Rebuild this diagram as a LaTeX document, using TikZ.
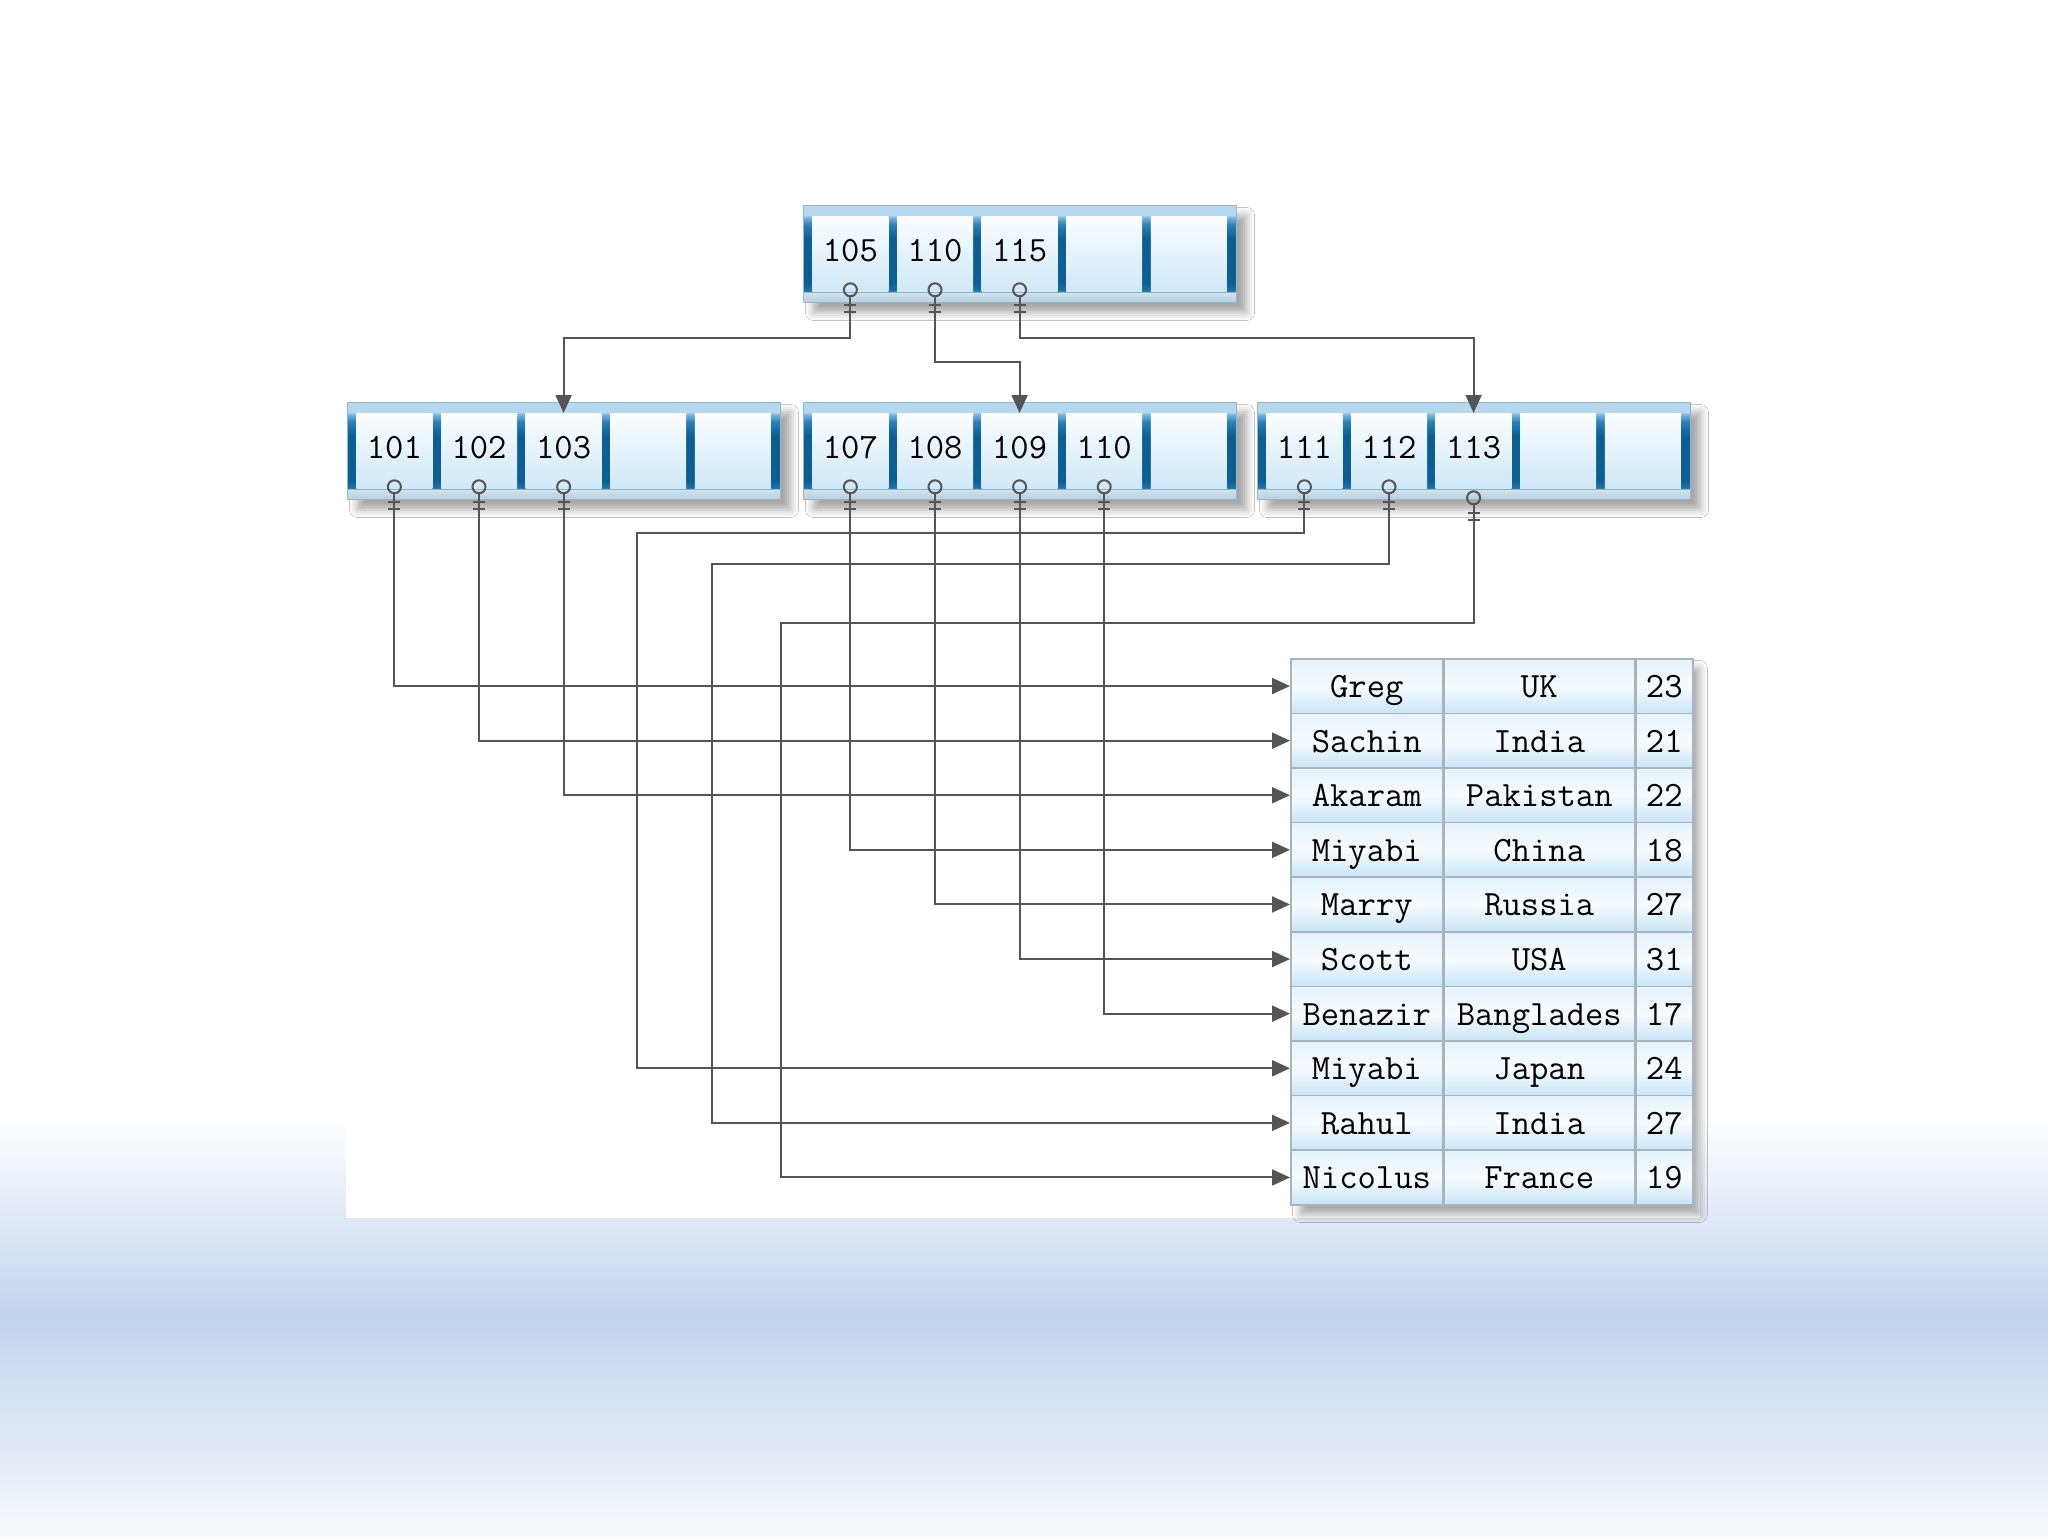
\documentclass[tikz,border=0pt]{standalone}
\usetikzlibrary{arrows.meta,shadows.blur,calc}
\definecolor{fA}{HTML}{B7CFDD}
\definecolor{fB}{HTML}{CFE3ED}
\definecolor{fC}{HTML}{1F70A5}
\definecolor{fD}{HTML}{0C5F95}
\definecolor{fE}{HTML}{2A80B8}
\definecolor{fG}{HTML}{7DB9E0}
\definecolor{fF}{HTML}{B5D8EE}
\definecolor{frameline}{HTML}{8FB8D0}
\definecolor{celltop}{HTML}{FBFDFF}
\definecolor{cellbot}{HTML}{CFE8F7}
\definecolor{tbtop}{HTML}{E4F2FB}
\definecolor{tbmid}{HTML}{F7FBFE}
\definecolor{tbbot}{HTML}{C9E5F6}
\definecolor{tbline}{HTML}{A9B4BD}
\definecolor{conncol}{HTML}{555555}
\definecolor{bgB}{HTML}{C2D3ED}
\definecolor{bgC}{HTML}{F8F9FC}
\pgfdeclareverticalshading{frameshade}{100bp}{color(0bp)=(fA); color(25bp)=(fA); color(30bp)=(fB); color(31bp)=(fC); color(35bp)=(fD); color(58bp)=(fD); color(65bp)=(fE); color(69bp)=(fG); color(70bp)=(fF); color(75bp)=(fF); color(100bp)=(fF)}
\tikzset{
  frame/.style={draw=frameline, line width=0.5pt, shading=frameshade, minimum width=216.5pt, minimum height=48.5pt, inner sep=0pt,
    blur shadow={shadow xshift=5pt, shadow yshift=-5pt, shadow blur radius=4pt, shadow opacity=35}},
  cellbox/.style={top color=celltop, bottom color=cellbot, minimum width=38pt, minimum height=37.5pt, inner sep=0pt,
    font=\ttfamily\fontsize{17.8}{18}\selectfont, text height=11pt, text depth=3.7pt},
  tcell/.style={draw=tbline, line width=0.75pt, top color=tbtop, bottom color=tbbot, middle color=tbmid,
    minimum height=27.3pt, inner sep=0pt, font=\ttfamily\fontsize{17.8}{18}\selectfont, text height=11.5pt, text depth=0pt},
  tbox/.style={fill=white, minimum width=199.5pt, minimum height=273pt, inner sep=0pt,
    blur shadow={shadow xshift=5pt, shadow yshift=-5pt, shadow blur radius=4pt, shadow opacity=35}},
  conn/.style={draw=conncol, line width=1pt},
  arr/.style={conn, -{Triangle[length=9pt,width=8pt]}}
}
\newcommand{\keyframe}[4]{%
  \node[frame, anchor=north west] (#1) at (#2,#3) {};
  \foreach \lab [count=\i] in {#4} {
    \node[cellbox, anchor=north west] (#1-\i) at ({#2+9+84.6*(\i-1)},{#3+11}) {\lab};
  }
}
\newcommand{\keymark}[2][-2]{%
  \path (#2.south) ++(0,#1) coordinate (#2-c);
  \draw[conn] (#2-c) circle[radius=3.25pt];
  \draw[conn] ($(#2-c)+(-6,15)$) -- ++(12,0);
  \draw[conn] ($(#2-c)+(-6,22)$) -- ++(12,0);
  \path (#2-c) ++(0,6.5) coordinate (#2-k);
}
\begin{document}
\begin{tikzpicture}[x=0.5pt, y=-0.5pt]
\useasboundingbox (0,0) rectangle (2048,1536);
\fill[white] (0,0) rectangle (2048,1536);
\shade[top color=white, bottom color=bgB] (0,1115) rectangle (2048,1318);
\shade[top color=bgB, bottom color=bgC] (0,1317) rectangle (2048,1536);
\fill[white] (346,0) rectangle (1700,1218);

% key frames
\keyframe{t}{803}{205}{105,110,115,{},{}}
\keyframe{a}{347}{402}{101,102,103,{},{}}
\keyframe{b}{803}{402}{107,108,109,110,{}}
\keyframe{c}{1257}{402}{111,112,113,{},{}}

% table
\node[tbox, anchor=north west] (tbl) at (1290,658) {};
\foreach \nm/\co/\ag [count=\i] in {Greg/UK/23, Sachin/India/21, Akaram/Pakistan/22, Miyabi/China/18, Marry/Russia/27, Scott/USA/31, Benazir/Banglades/17, Miyabi/Japan/24, Rahul/India/27, Nicolus/France/19} {
  \node[tcell, minimum width=76pt, anchor=north west] (r\i) at (1290,{658+54.6*(\i-1)}) {\nm};
  \node[tcell, minimum width=95pt, anchor=north west] (k\i) at (r\i.north east) {\co};
  \node[tcell, minimum width=28.5pt, anchor=north west] (g\i) at (k\i.north east) {\ag};
}

% key marks
\keymark{t-1}\keymark{t-2}\keymark{t-3}
\keymark{a-1}\keymark{a-2}\keymark{a-3}
\keymark{b-1}\keymark{b-2}\keymark{b-3}\keymark{b-4}
\keymark{c-1}\keymark{c-2}\keymark[9]{c-3}

% bend coordinates
\coordinate (yA) at (0,338);
\coordinate (yB) at (0,362);
\coordinate (j1) at (637,533);
\coordinate (j2) at (712,564);
\coordinate (j3) at (781,623);

% top level connectors
\draw[arr] (t-1-k) -- (t-1-k |- yA) -| (a-3.north);
\draw[arr] (t-2-k) -- (t-2-k |- yB) -| (b-3.north);
\draw[arr] (t-3-k) -- (t-3-k |- yA) -| (c-3.north);

% leaf connectors
\draw[arr] (a-1-k) |- (r1.west);
\draw[arr] (a-2-k) |- (r2.west);
\draw[arr] (a-3-k) |- (r3.west);
\draw[arr] (b-1-k) |- (r4.west);
\draw[arr] (b-2-k) |- (r5.west);
\draw[arr] (b-3-k) |- (r6.west);
\draw[arr] (b-4-k) |- (r7.west);
\draw[arr] (c-1-k) |- (j1) |- (r8.west);
\draw[arr] (c-2-k) |- (j2) |- (r9.west);
\draw[arr] (c-3-k) |- (j3) |- (r10.west);
\end{tikzpicture}
\end{document}
